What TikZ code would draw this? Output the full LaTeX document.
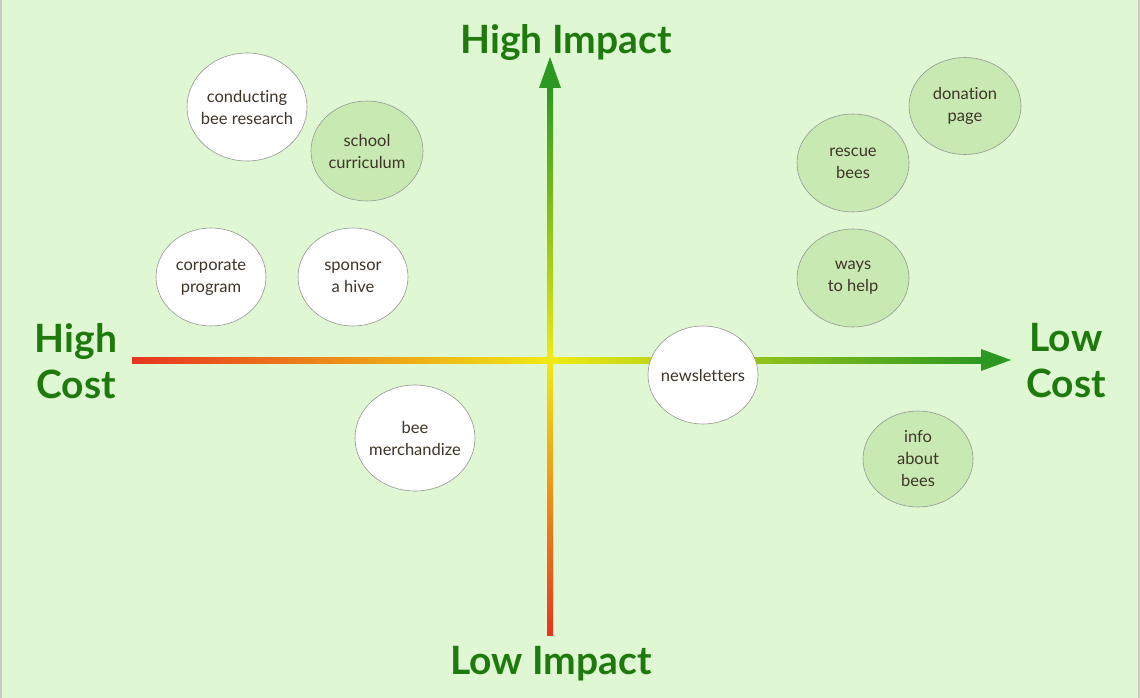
\documentclass[tikz,border=0pt]{standalone}
\usepackage{fontspec}
\setmainfont{Lato}[Ligatures=NoCommon]
\usetikzlibrary{shapes.geometric}
\definecolor{bg}{RGB}{223,247,211}
\definecolor{edge}{RGB}{200,200,200}
\definecolor{bubblegreen}{RGB}{200,234,178}
\definecolor{bubbleline}{RGB}{150,150,150}
\definecolor{labelgreen}{RGB}{30,122,12}
\definecolor{textbrown}{RGB}{62,52,40}
\definecolor{axred}{RGB}{232,52,30}
\definecolor{axyellow}{RGB}{240,234,20}
\definecolor{axgreen}{RGB}{44,152,34}
\tikzset{
  bubble/.style={ellipse, draw=bubbleline, line width=0.6pt, fill=white,
    minimum width=110pt, minimum height=98pt, inner sep=-14pt,
    align=center, font=\fontsize{16.5}{22}\selectfont, text=textbrown},
  greenbubble/.style={bubble, fill=bubblegreen},
  axislabel/.style={font=\fontsize{39}{46}\selectfont\bfseries, text=labelgreen, align=center},
  tiptri/.style={fill=axgreen, draw=none}
}
\begin{document}
\begin{tikzpicture}[x=1pt, y=-1pt]
  \useasboundingbox (0,0) rectangle (1140,698);
  % page background with thin side edges
  \fill[bg] (0,0) rectangle (1140,698);
  \fill[edge] (0,0) rectangle (2,698);
  \fill[edge] (1138,0) rectangle (1140,698);

  % axis end points
  \coordinate (origin) at (550,360);
  \coordinate (costleft) at (132,360);
  \coordinate (costright) at (1011,360);
  \coordinate (impbottom) at (550,635);
  \coordinate (imptop) at (550,57);

  % horizontal axis: red -> yellow -> green
  \shade[left color=axred, right color=axyellow] (132,357) rectangle (550,363);
  \shade[left color=axyellow, right color=axgreen] (550,357) rectangle (983,363);
  \fill[tiptri] (costright) -- (981,349) -- (981,371) -- cycle;

  % vertical axis: red (bottom) -> yellow -> green (top)
  \shade[bottom color=axred, top color=axyellow] (547,635) rectangle (553,360);
  \shade[bottom color=axyellow, top color=axgreen] (547,360) rectangle (553,86);
  \fill[tiptri] (imptop) -- (539,88) -- (561,88) -- cycle;

  % axis labels
  \node[axislabel] (himp) at (566,43) {High Impact};
  \node[axislabel] (limp) at (551,664) {Low Impact};
  \node[axislabel] (hcost) at (76,361) {High\\Cost};
  \node[axislabel] (lcost) at (1066,361) {Low\\Cost};

  % ideas
  \node[bubble, minimum width=120pt, minimum height=108pt] (research) at (247,107) {conducting\\bee research};
  \node[greenbubble, minimum width=112pt, minimum height=100pt] (school) at (367,151) {school\\curriculum};
  \node[bubble] (corporate) at (211,277) {corporate\\program};
  \node[bubble] (sponsor) at (353,277) {sponsor\\a hive};
  \node[bubble, minimum width=120pt, minimum height=106pt] (merch) at (415,438) {bee\\merchandize};
  \node[bubble] (news) at (703,375) {newsletters};
  \node[greenbubble, minimum width=112pt, minimum height=97pt] (donation) at (965,106) {donation\\page};
  \node[greenbubble, minimum width=112pt] (rescue) at (853,163) {rescue\\bees};
  \node[greenbubble, minimum width=112pt] (ways) at (853,278) {ways\\to help};
  \node[greenbubble, minimum height=96pt] (info) at (918,459) {info\\about\\bees};
\end{tikzpicture}
\end{document}
